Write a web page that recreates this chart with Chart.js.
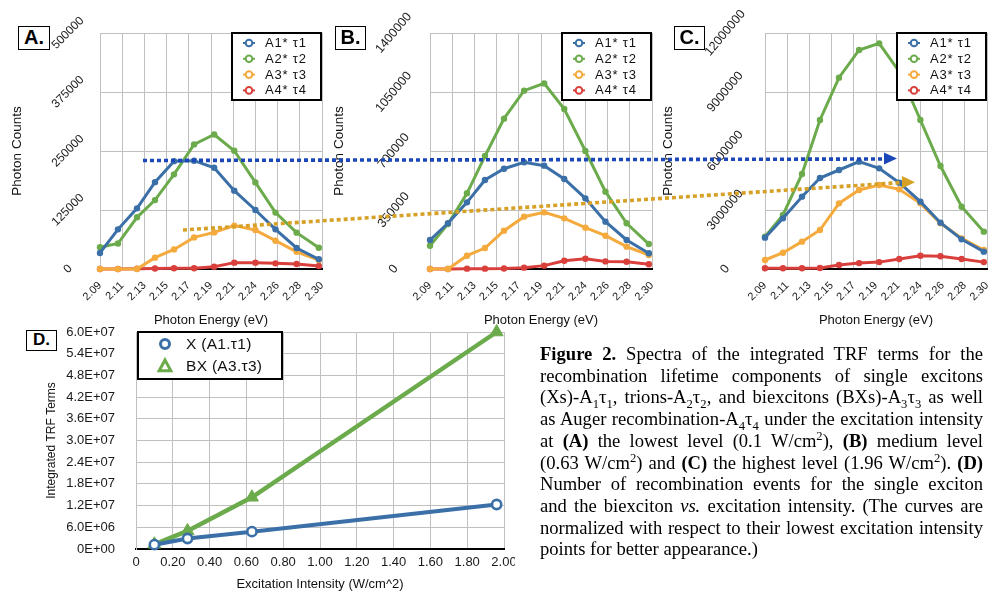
<!DOCTYPE html>
<html><head><meta charset="utf-8">
<script src="https://cdn.jsdelivr.net/npm/chart.js@4.4.1/dist/chart.umd.min.js"></script>
<style>
html,body{margin:0;padding:0;background:#fff;}
body{width:998px;height:593px;position:relative;overflow:hidden;font-family:"Liberation Sans",Arial,sans-serif;}
canvas{position:absolute;}
.tag{position:absolute;border:1.5px solid #000;background:#fff;font-weight:bold;text-align:center;box-sizing:border-box;color:#000;}
#caption{position:absolute;left:540px;top:343px;width:443px;font-family:"Liberation Serif","Times New Roman",serif;font-size:18.6px;line-height:21.7px;color:#000;}
#caption div{text-align:justify;text-align-last:justify;white-space:nowrap;}
#caption div.last{text-align-last:left;}
#caption sub,#caption sup{font-size:0.68em;line-height:0;}
#arrows{position:absolute;left:0;top:0;pointer-events:none;}
</style></head>
<body>
<canvas id="cA" width="330" height="330" style="left:0;top:0"></canvas>
<canvas id="cB" width="330" height="330" style="left:330px;top:0"></canvas>
<canvas id="cC" width="340" height="330" style="left:655px;top:0"></canvas>
<canvas id="cD" width="515" height="273" style="left:0;top:320px"></canvas>

<svg id="arrows" width="998" height="593">
  <line x1="143" y1="160.5" x2="884" y2="159" stroke="#1c47b8" stroke-width="3.6" stroke-dasharray="4 3"/>
  <polygon points="884,152.5 897,158.5 884,164.5" fill="#1c47b8"/>
  <line x1="183" y1="230" x2="902" y2="182.5" stroke="#d6a126" stroke-width="3.6" stroke-dasharray="4 3"/>
  <polygon points="902,176 915,182.3 902,188.5" fill="#d6a126"/>
</svg>

<div class="tag" style="left:18px;top:26px;width:32px;height:24px;font-size:20px;line-height:21px;">A.</div>
<div class="tag" style="left:335px;top:26px;width:31px;height:24px;font-size:20px;line-height:21px;">B.</div>
<div class="tag" style="left:674px;top:26px;width:31px;height:24px;font-size:20px;line-height:21px;">C.</div>
<div class="tag" style="left:26px;top:330px;width:31px;height:21px;font-size:17px;line-height:18px;">D.</div>

<div id="caption">
<div><b>Figure 2.</b> Spectra of the integrated TRF terms for the</div>
<div>recombination lifetime components of single excitons</div>
<div>(Xs)-A<sub>1</sub>τ<sub>1</sub>, trions-A<sub>2</sub>τ<sub>2</sub>, and biexcitons (BXs)-A<sub>3</sub>τ<sub>3</sub> as well</div>
<div>as Auger recombination-A<sub>4</sub>τ<sub>4</sub> under the excitation intensity</div>
<div>at <b>(A)</b> the lowest level (0.1 W/cm<sup>2</sup>), <b>(B)</b> medium level</div>
<div>(0.63 W/cm<sup>2</sup>) and <b>(C)</b> the highest level (1.96 W/cm<sup>2</sup>). <b>(D)</b></div>
<div>Number of recombination events for the single exciton</div>
<div>and the biexciton <i>vs.</i> excitation intensity. (The curves are</div>
<div>normalized with respect to their lowest excitation intensity</div>
<div class="last">points for better appearance.)</div>
</div>

<script>
// ---------- data ----------
const seriesLabels = ['A1* τ1', 'A2* τ2', 'A3* τ3', 'A4* τ4'];
const energies = [2.090, 2.107, 2.125, 2.142, 2.160, 2.179, 2.198, 2.217, 2.237, 2.256, 2.276, 2.297];
const energyTickValues = [2.090, 2.111, 2.132, 2.153, 2.174, 2.195, 2.216, 2.237, 2.258, 2.279, 2.300];
const energyTickLabels = ['2.09', '2.11', '2.13', '2.15', '2.17', '2.19', '2.21', '2.24', '2.26', '2.28', '2.30'];

const aA1 = [34000, 84000, 128500, 184000, 228500, 229500, 214500, 166000, 125000, 84000, 44500, 20500];
const aA2 = [46000, 54000, 109500, 146000, 200500, 264000, 285000, 250500, 183500, 119500, 77000, 45000];
const aA3 = [0, 0, 0, 24000, 41500, 67000, 77500, 92000, 82500, 60000, 36500, 19000];
const aA4 = [0, 0, 500, 1000, 1500, 1500, 5000, 13500, 13500, 12000, 10500, 6500];
const aTicks = [0, 125000, 250000, 375000, 500000];

const bA1 = [172000, 271000, 395500, 528000, 595000, 633000, 613000, 534000, 419000, 281000, 172000, 93000];
const bA2 = [138000, 267000, 449000, 670000, 892000, 1058000, 1101000, 949000, 700000, 459000, 271000, 148000];
const bA3 = [0, 0, 79000, 124500, 227500, 310500, 336000, 300500, 245000, 197500, 132500, 83000];
const bA4 = [0, 0, 2000, 2000, 3000, 8000, 20000, 49000, 61000, 45000, 43000, 28000];
const bTicks = [0, 350000, 700000, 1050000, 1400000];

const cA1 = [1593000, 2576000, 3678000, 4627000, 5034000, 5458000, 5119000, 4390000, 3424000, 2356000, 1508000, 881000];
const cA2 = [1644000, 2746000, 4831000, 7576000, 9729000, 11136000, 11475000, 10034000, 7576000, 5237000, 3169000, 1898000];
const cA3 = [458000, 830000, 1390000, 1983000, 3339000, 4017000, 4271000, 4051000, 3339000, 2322000, 1559000, 966000];
const cA4 = [40000, 40000, 40000, 50000, 200000, 300000, 350000, 510000, 670000, 650000, 510000, 350000];
const cTicks = [0, 3000000, 6000000, 9000000, 12000000];

const intensity = [0.10, 0.28, 0.63, 1.96];
const excitonX = [1200000, 2900000, 4800000, 12300000];
const biexcitonBX = [1300000, 5000000, 14300000, 60000000];
const dLabels = ['X (A1.τ1)', 'BX (A3.τ3)'];
const dYTicks = [0, 6e6, 1.2e7, 1.8e7, 2.4e7, 3.0e7, 3.6e7, 4.2e7, 4.8e7, 5.4e7, 6.0e7];
const dYTickLabels = ['0E+00', '6.0E+06', '1.2E+07', '1.8E+07', '2.4E+07', '3.0E+07', '3.6E+07', '4.2E+07', '4.8E+07', '5.4E+07', '6.0E+07'];
const dXTicks = [0, 0.2, 0.4, 0.6, 0.8, 1.0, 1.2, 1.4, 1.6, 1.8, 2.0];
const dXTickLabels = ['0', '0.20', '0.40', '0.60', '0.80', '1.00', '1.20', '1.40', '1.60', '1.80', '2.00'];

// ---------- styling ----------
const COLORS = ['#3b6fa7', '#6cab4c', '#f4aa3d', '#d9403c'];
const GRID = '#c0c0c0';
const FONT = '"Liberation Sans", Arial, Helvetica, sans-serif';
Chart.defaults.font.family = FONT;
Chart.defaults.color = '#1a1a1a';

function noPad(s) { s.paddingLeft = 0; s.paddingRight = 0; s.paddingTop = 0; s.paddingBottom = 0; }

// legend drawn in a box inside the plot area
const boxLegend = {
  id: 'boxLegend',
  afterDatasetsDraw(chart, args, o) {
    if (!o || !o.show) return;
    const {ctx, chartArea} = chart;
    const x0 = o.side === 'left' ? chartArea.left + o.dx : chartArea.right - o.dx - o.w;
    const y0 = chartArea.top + o.dy;
    ctx.save();
    ctx.fillStyle = '#fff';
    ctx.fillRect(x0, y0, o.w, o.h);
    ctx.lineWidth = o.bw;
    ctx.strokeStyle = '#000';
    ctx.strokeRect(x0, y0, o.w, o.h);
    ctx.font = o.fontSize + 'px ' + FONT;
    ctx.textBaseline = 'middle';
    ctx.textAlign = 'left';
    chart.data.datasets.forEach((d, i) => {
      const cy = y0 + o.row0 + i * o.gap;
      const cx = x0 + o.mx;
      const col = d.borderColor;
      ctx.strokeStyle = col;
      if (o.lineMarker) {
        ctx.lineWidth = 2;
        ctx.beginPath(); ctx.moveTo(cx - 6, cy); ctx.lineTo(cx + 6, cy); ctx.stroke();
      }
      ctx.lineWidth = o.mw;
      ctx.fillStyle = '#fff';
      ctx.beginPath();
      if (d.pointStyle === 'triangle') {
        const s = o.tri;
        ctx.moveTo(cx, cy - s);
        ctx.lineTo(cx + s * 0.9, cy + s * 0.65);
        ctx.lineTo(cx - s * 0.9, cy + s * 0.65);
        ctx.closePath();
      } else {
        ctx.arc(cx, cy, o.mr, 0, Math.PI * 2);
      }
      ctx.fill(); ctx.stroke();
      ctx.fillStyle = '#111';
      if (o.ls) ctx.letterSpacing = o.ls + 'px';
      ctx.fillText(d.label, x0 + o.tx, cy + 0.5);
      ctx.letterSpacing = '0px';
    });
    ctx.restore();
  }
};

function spectrumDatasets(series) {
  return series.map((vals, k) => ({
    label: seriesLabels[k],
    data: energies.map((e, i) => ({x: e, y: vals[i]})),
    borderColor: COLORS[k],
    backgroundColor: COLORS[k],
    borderWidth: 3,
    pointRadius: 3.2,
    pointHoverRadius: 3.2,
    pointBackgroundColor: COLORS[k],
    pointBorderColor: COLORS[k],
    pointBorderWidth: 0,
    tension: 0,
    clip: false
  }));
}

function spectrumChart(id, series, yTicks, yMax, opt) {
  return new Chart(document.getElementById(id), {
    type: 'line',
    data: {datasets: spectrumDatasets(series)},
    options: {
      responsive: false, animation: false, devicePixelRatio: 1,
      layout: {padding: {top: 33, right: 8, bottom: 0, left: 0}, autoPadding: false},
      plugins: {
        legend: {display: false}, tooltip: {enabled: false},
        boxLegend: {show: true, side: 'right', dx: 1, dy: 0, w: 89, h: 67, bw: 2, row0: 10, gap: 15.8,
          mx: 17, tx: 33, fontSize: 13, lineMarker: true, mr: 3.3, mw: 2, ls: 0.8}
      },
      scales: {
        x: {
          type: 'linear', min: 2.09, max: 2.30,
          afterBuildTicks: s => { s.ticks = energyTickValues.map(v => ({value: v})); },
          afterFit: s => { s.height = 61; noPad(s); },
          ticks: {autoSkip: false, minRotation: 45, maxRotation: 45, padding: 10, font: {size: 11},
            callback: (v, i) => energyTickLabels[i]},
          grid: {color: GRID, lineWidth: 1, drawTicks: false},
          border: {display: true, color: '#000', width: 2},
          title: {display: true, text: 'Photon Energy (eV)', font: {size: 13}, color: '#111', padding: {top: 0, bottom: 2.2}}
        },
        y: {
          type: 'linear', min: 0, max: yMax,
          afterBuildTicks: s => { s.ticks = yTicks.map(v => ({value: v})); },
          afterFit: s => { s.width = opt.yw; noPad(s); },
          ticks: {autoSkip: false, minRotation: opt.rot, maxRotation: opt.rot, crossAlign: 'center', padding: 12,
            font: {size: opt.fs}, callback: (v, i) => String(yTicks[i])},
          grid: {color: GRID, lineWidth: 1, drawTicks: false},
          border: {display: true, color: GRID, width: 1},
          title: {display: true, text: 'Photon Counts', font: {size: 13.5}, color: '#111', padding: {top: opt.tp, bottom: 0}}
        }
      }
    },
    plugins: [boxLegend]
  });
}

spectrumChart('cA', [aA1, aA2, aA3, aA4], aTicks, 500000, {yw: 100, rot: 45, fs: 12, tp: 9.5});
spectrumChart('cB', [bA1, bA2, bA3, bA4], bTicks, 1400000, {yw: 100, rot: 50, fs: 12.5, tp: 1.2});
spectrumChart('cC', [cA1, cA2, cA3, cA4], cTicks, 12000000, {yw: 110, rot: 50, fs: 12.5, tp: 4.7});

new Chart(document.getElementById('cD'), {
  type: 'line',
  data: {datasets: [
    {label: dLabels[0], data: intensity.map((x, i) => ({x, y: excitonX[i]})),
      borderColor: COLORS[0], backgroundColor: COLORS[0], borderWidth: 4, tension: 0,
      pointStyle: 'circle', pointRadius: 4.6, pointHoverRadius: 4.6,
      pointBackgroundColor: '#fff', pointBorderColor: COLORS[0], pointBorderWidth: 2.6, clip: false},
    {label: dLabels[1], data: intensity.map((x, i) => ({x, y: biexcitonBX[i]})),
      borderColor: COLORS[1], backgroundColor: COLORS[1], borderWidth: 4.5, tension: 0,
      pointStyle: 'triangle', pointRadius: 7.5, pointHoverRadius: 7.5,
      pointBackgroundColor: COLORS[1], pointBorderColor: COLORS[1], pointBorderWidth: 1, clip: false}
  ]},
  options: {
    responsive: false, animation: false, devicePixelRatio: 1,
    layout: {padding: {top: 12, right: 11, bottom: 0, left: 0}, autoPadding: false},
    plugins: {
      legend: {display: false}, tooltip: {enabled: false},
      boxLegend: {show: true, side: 'left', dx: 2, dy: 0, w: 144, h: 47, bw: 2, row0: 12, gap: 22.5,
        mx: 27, tx: 48, fontSize: 15.5, lineMarker: false, mr: 4.5, mw: 3, tri: 6.5, ls: 0.3}
    },
    scales: {
      x: {
        type: 'linear', min: 0, max: 2,
        afterBuildTicks: s => { s.ticks = dXTicks.map(v => ({value: v})); },
        afterFit: s => { s.height = 44; noPad(s); },
        ticks: {autoSkip: false, maxRotation: 0, minRotation: 0, padding: 6, font: {size: 13},
          callback: (v, i) => dXTickLabels[i]},
        grid: {color: GRID, lineWidth: 1, drawTicks: false},
        border: {display: true, color: '#000', width: 2},
        title: {display: true, text: 'Excitation Intensity (W/cm^2)', font: {size: 13}, color: '#111', padding: {top: 0, bottom: 1.2}}
      },
      y: {
        type: 'linear', min: 0, max: 6e7,
        afterBuildTicks: s => { s.ticks = dYTicks.map(v => ({value: v})); },
        afterFit: s => { s.width = 136; noPad(s); },
        ticks: {autoSkip: false, padding: 21, font: {size: 13}, callback: (v, i) => dYTickLabels[i]},
        grid: {color: GRID, lineWidth: 1, drawTicks: false},
        border: {display: true, color: GRID, width: 1},
        title: {display: true, text: 'Integrated TRF Terms', font: {size: 12}, color: '#111', padding: {top: 44.8, bottom: 0}}
      }
    }
  },
  plugins: [boxLegend]
});
</script>
</body></html>
